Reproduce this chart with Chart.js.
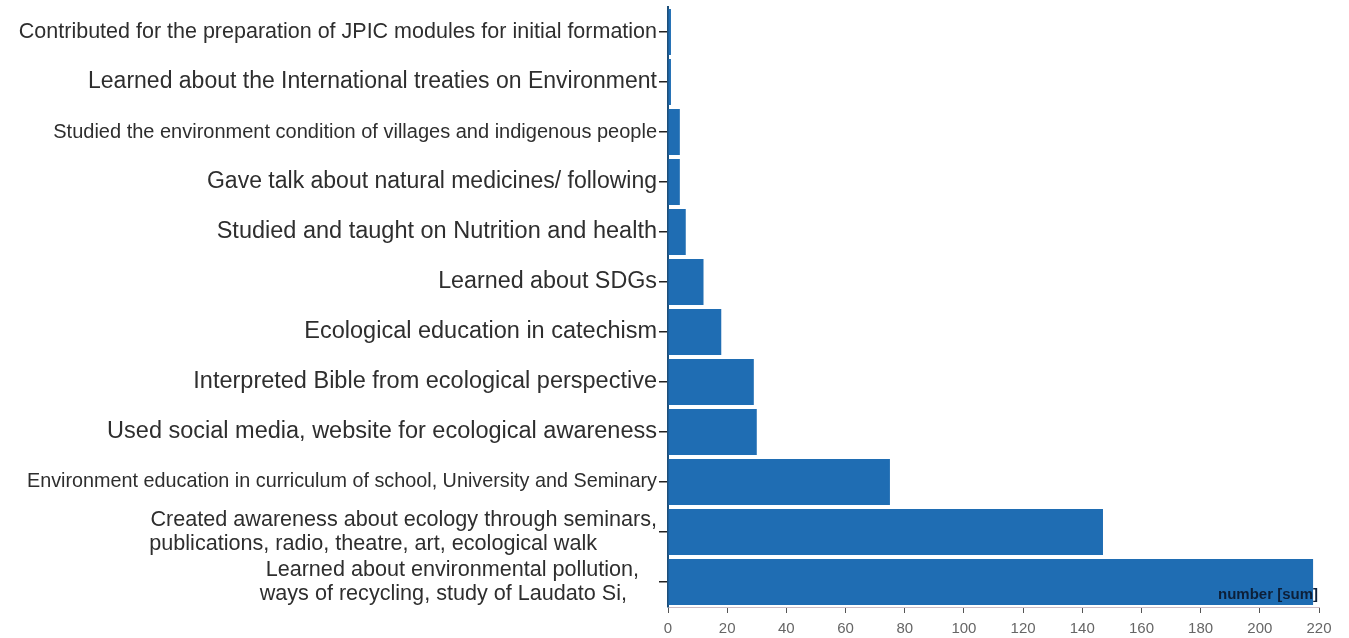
<!DOCTYPE html>
<html>
<head>
<meta charset="utf-8">
<script src="https://cdn.jsdelivr.net/npm/chart.js@4"></script>
<style>
  html, body { margin: 0; padding: 0; background: #fff; }
  canvas { display: block; }
</style>
</head>
<body>
<canvas id="activityChart" width="1349" height="638"></canvas>
<script>
// categories (top to bottom); the two-line labels keep their lines flush left,
// so the shorter lines carry trailing spaces
const categories = [
  "Contributed for the preparation of JPIC modules for initial formation",
  "Learned about the International treaties on Environment",
  "Studied the environment condition of villages and indigenous people",
  "Gave talk about natural medicines/ following",
  "Studied and taught on Nutrition and health",
  "Learned about SDGs",
  "Ecological education in catechism",
  "Interpreted Bible from ecological perspective",
  "Used social media, website for ecological awareness",
  "Environment education in curriculum of school, University and Seminary",
  ["Created awareness about ecology through seminars,", "publications, radio, theatre, art, ecological walk          "],
  ["Learned about environmental pollution,   ", "ways of recycling, study of Laudato Si,     "]
];
const counts = [1, 1, 4, 4, 6, 12, 18, 29, 30, 75, 147, 218];
const xMin = 0;
const xMax = 220;
const xStep = 20;
const axisTitle = "number [sum]";

// label font sizes (the source mixes sizes)
const labelSizes = [21.5, 23, 20, 23, 23.5, 23.3, 23.5, 23.5, 23.5, 19.8, 21.6, 21.6];
const FONT = '"Liberation Sans", Arial, sans-serif';

const axisTitlePlugin = {
  id: "axisTitleInside",
  afterDatasetsDraw(chart) {
    const { ctx, chartArea } = chart;
    ctx.save();
    ctx.font = "bold 15px " + FONT;
    ctx.fillStyle = "#0d1f38";
    ctx.textAlign = "right";
    ctx.textBaseline = "middle";
    ctx.fillText(axisTitle, chartArea.right - 1, chartArea.bottom - 12);
    ctx.restore();
  }
};

new Chart(document.getElementById("activityChart").getContext("2d"), {
  type: "bar",
  data: {
    labels: categories,
    datasets: [{
      data: counts,
      backgroundColor: "#1f6db3",
      borderWidth: 0,
      barPercentage: 0.92,
      categoryPercentage: 1
    }]
  },
  options: {
    indexAxis: "y",
    responsive: false,
    animation: false,
    layout: { padding: { top: 7, right: 30, bottom: -7, left: 0 } },
    plugins: {
      legend: { display: false },
      tooltip: { enabled: false }
    },
    scales: {
      x: {
        min: xMin,
        max: xMax,
        ticks: {
          stepSize: xStep,
          color: "#666",
          font: { family: FONT, size: 15 },
          padding: 7,
          maxRotation: 0
        },
        grid: { drawOnChartArea: false, tickLength: 6, color: "#555" },
        border: { color: "#cbbcc4", width: 1 }
      },
      y: {
        ticks: {
          autoSkip: false,
          color: "#2e2e2e",
          padding: 2,
          font: (c) => ({ family: FONT, size: labelSizes[c.index] || 21, lineHeight: 1.15 })
        },
        grid: { drawOnChartArea: false, offset: false, tickLength: 9, color: "#222", lineWidth: 1.5 },
        border: { color: "#1d4f7a", width: 2 },
        afterFit: (s) => {
          s.width = 668;
          s.paddingTop = 0;
          s.paddingBottom = 0;
        }
      }
    }
  },
  plugins: [axisTitlePlugin]
});
</script>
</body>
</html>
